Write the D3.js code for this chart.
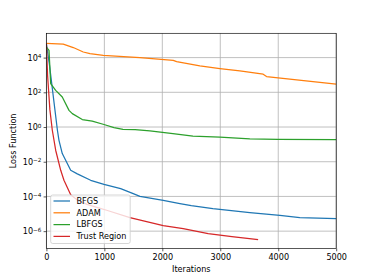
<!DOCTYPE html>
<html><head><meta charset="utf-8">
<script src="https://cdn.jsdelivr.net/npm/d3@7"></script>
<style>body{margin:0;background:#fff}svg{display:block}text{font-family:"DejaVu Sans",sans-serif;fill:#000}</style>
</head><body>
<svg id="c" width="374" height="280"></svg>
<script>
const seriesNames = ["BFGS", "ADAM", "LBFGS", "Trust Region"];
const seriesColors = ["#1f77b4", "#ff7f0e", "#2ca02c", "#d62728"];
const bfgs = [[0,6.3e4],[50,4.5e3],[190,0.65],[217,0.17],[274,2.95e-2],[419,3.2e-3],[533,2.0e-3],[764,8.5e-4],[993,5.0e-4],[1281,2.8e-4],[1498,1.45e-4],[1614,1.0e-4],[2016,6.0e-5],[2303,3.9e-5],[2500,3.0e-5],[2872,2.0e-5],[3510,1.17e-5],[4028,8.1e-6],[4372,6.0e-6],[5000,5.2e-6]];
const adam = [[0,6.5e4],[291,6.0e4],[464,3.8e4],[636,2.1e4],[752,1.7e4],[981,1.35e4],[1614,1.0e4],[2188,6.9e3],[2247,5.9e3],[2648,3.3e3],[2993,2.3e3],[3338,1.7e3],[3740,1.1e3],[3798,8.1e2],[3998,6.8e2],[5000,3.0e2]];
const lbfgs = [[0,4.0e4],[45,2.6e4],[74,3.2e2],[160,1.3e2],[274,54],[390,9.1],[447,5.9],[619,2.7],[791,2.2],[993,1.4],[1166,0.93],[1321,0.74],[1530,0.71],[1786,0.59],[2183,0.42],[2528,0.30],[2993,0.26],[3510,0.21],[3993,0.195],[5000,0.186]];
const trust = [[0,6.5e4],[20,1e3],[60,10],[102,0.65],[160,4.6e-2],[247,3.2e-3],[303,8.5e-4],[419,1.25e-4],[533,6.3e-5],[700,3.5e-5],[900,2.2e-5],[1040,1.6e-5],[1441,6.0e-6],[2016,2.1e-6],[2360,1.4e-6],[2791,7.2e-7],[3200,4.8e-7],[3653,3.2e-7]];
const xTicks = [0, 1000, 2000, 3000, 4000, 5000];
const yTickExps = [-6, -4, -2, 0, 2, 4];
const xLabel = "Iterations";
const yLabel = "Loss Function";

const svg = d3.select("#c");
const L = 46.4, R = 336.2, T = 33.3, B = 248.5;
const x = d3.scaleLinear().domain([0, 5000]).range([L, R]);
const y = d3.scaleLog().domain([1e-7, Math.pow(10, 5.4)]).range([B, T]);
const fs = 8.1;

// grid
const g = svg.append("g");
xTicks.forEach(t => g.append("line").attr("x1", x(t)).attr("x2", x(t)).attr("y1", T).attr("y2", B)
  .attr("stroke", "#b0b0b0").attr("stroke-width", 0.8));
yTickExps.forEach(e => g.append("line").attr("x1", L).attr("x2", R).attr("y1", y(Math.pow(10, e))).attr("y2", y(Math.pow(10, e)))
  .attr("stroke", "#b0b0b0").attr("stroke-width", 0.8));

// series
const data = [bfgs, adam, lbfgs, trust];
const line = d3.line().x(d => x(d[0])).y(d => y(d[1]));
const clip = svg.append("clipPath").attr("id", "cp").append("rect").attr("x", L).attr("y", T).attr("width", R - L).attr("height", B - T);
data.forEach((d, i) => svg.append("path").attr("d", line(d)).attr("fill", "none")
  .attr("stroke", seriesColors[i]).attr("stroke-width", 1.25).attr("clip-path", "url(#cp)").attr("stroke-linejoin", "round"));

// axes
const xa = svg.append("g").attr("transform", `translate(0,${B})`)
  .call(d3.axisBottom(x).tickValues(xTicks).tickSize(2.8).tickPadding(2.5).tickFormat(d3.format("d")));
const ya = svg.append("g").attr("transform", `translate(${L},0)`)
  .call(d3.axisLeft(y).tickValues(yTickExps.map(e => Math.pow(10, e))).tickSize(2.8).tickPadding(2.5).tickFormat(""));
[xa, ya].forEach(a => {
  a.select(".domain").remove();
  a.selectAll("line").attr("stroke", "#000").attr("stroke-width", 0.65);
  a.selectAll("text").attr("font-size", fs).attr("font-family", "DejaVu Sans");
});
ya.selectAll(".tick").each(function(d) {
  const e = Math.round(Math.log10(d));
  const t = d3.select(this).select("text").attr("x", -5).attr("dy", "0.32em").attr("text-anchor", "end");
  t.text(null);
  t.append("tspan").text("10");
  t.append("tspan").attr("dy", "-0.45em").attr("font-size", fs * 0.7).text(e < 0 ? "\u2212" + (-e) : String(e));
});
// frame
svg.append("rect").attr("x", L).attr("y", T).attr("width", R - L).attr("height", B - T)
  .attr("fill", "none").attr("stroke", "#000").attr("stroke-width", 0.65);

// labels
svg.append("text").attr("x", (L + R) / 2).attr("y", 272).attr("text-anchor", "middle").attr("font-size", fs).text(xLabel);
svg.append("text").attr("transform", `translate(15.5,${(T + B) / 2}) rotate(-90)`).attr("text-anchor", "middle").attr("font-size", fs).text(yLabel);

// legend
const lg = svg.append("g");
lg.append("rect").attr("x", 50.7).attr("y", 195).attr("width", 79.5).attr("height", 48.5).attr("rx", 2)
  .attr("fill", "#fff").attr("fill-opacity", 0.8).attr("stroke", "#cccccc").attr("stroke-width", 0.8);
seriesNames.forEach((n, i) => {
  const yy = 201 + i * 11.8;
  lg.append("line").attr("x1", 53.5).attr("x2", 70).attr("y1", yy).attr("y2", yy).attr("stroke", seriesColors[i]).attr("stroke-width", 1.25);
  lg.append("text").attr("x", 76.5).attr("y", yy).attr("dy", "0.35em").attr("font-size", fs).text(n);
});
</script>
</body></html>
